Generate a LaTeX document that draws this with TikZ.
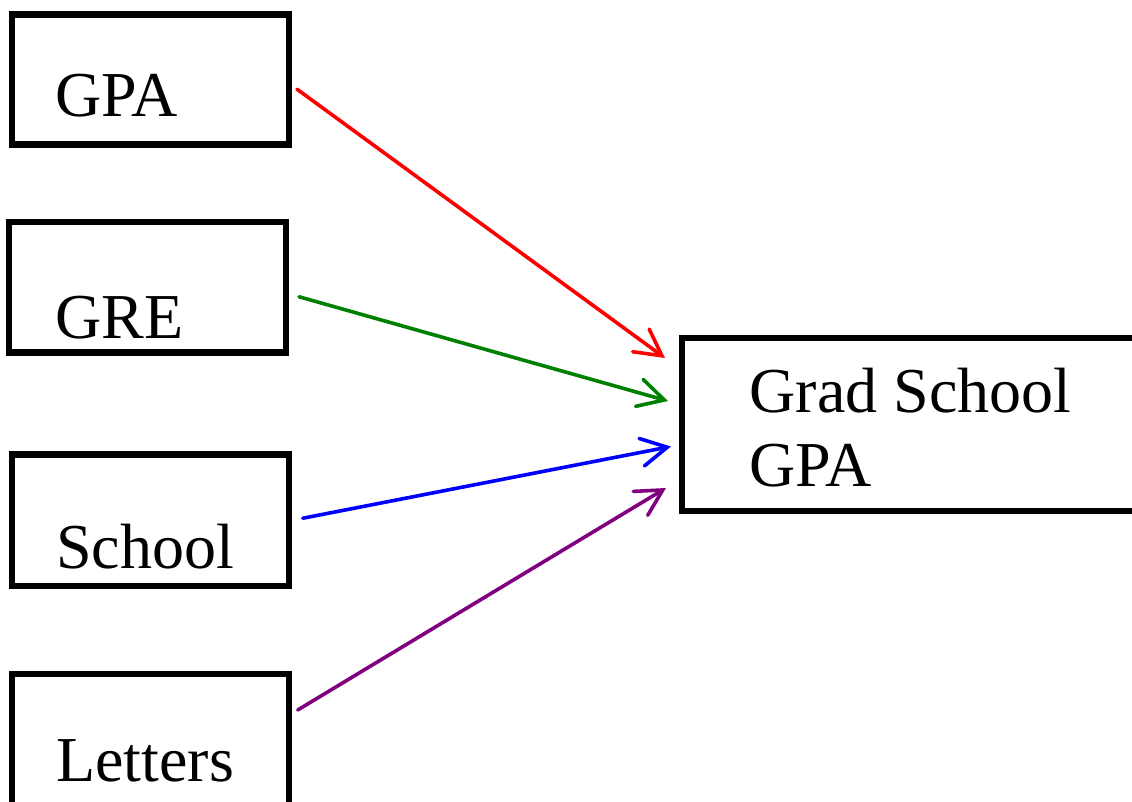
\documentclass[tikz,border=0pt]{standalone}
\usepackage{fontspec}
\setmainfont{Liberation Serif}
\usepackage{xcolor}
\usepackage{tikz}
\usetikzlibrary{calc, arrows.meta, positioning}
\definecolor{darkgreen}{RGB}{0,128,0}
\definecolor{darkpurple}{RGB}{128,0,128}
\tikzset{
    boxnode/.style = {draw, rectangle, line width=6.5pt, fill=none, inner sep=0em, outer sep=0pt,
      anchor=north west},
    textnode/.style = {draw=none, fill=none, rectangle, inner sep=0em, anchor=base west,
      font=\fontsize{64}{74.4}\selectfont},
    connect/.style = {line width=3.6pt, line cap=round,
      -{Straight Barb[length=26pt, width=28pt, line cap=round]}},
    every text node part/.style={align=left}
}
\begin{document}
\begin{tikzpicture}[x=1pt, y=-1pt]
    \useasboundingbox (0,0) rectangle (1132,802);
    \clip (0,0) rectangle (1132,802);

    \node [boxnode, name=GPAbox, minimum width=277pt, minimum height=130pt] at (12,14.5) {};
    \node [boxnode, name=GREbox, minimum width=277pt, minimum height=130.5pt] at (9,222) {};
    \node [boxnode, name=Schoolbox, minimum width=277pt, minimum height=131.5pt] at (12,454.5) {};
    \node [boxnode, name=Lettersbox, minimum width=277pt, minimum height=132pt] at (12,674) {};
    \node [boxnode, name=Gradbox, minimum width=470pt, minimum height=173pt] at (682,338) {};

    \node [textnode, name=GPA] at (55,117) {GPA};
    \node [textnode, name=GRE] at (55,338.3) {GRE};
    \node [textnode, name=School] at (56,568) {School};
    \node [textnode, name=Letters] at (56,781.7) {Letters};
    \node [textnode, name=Grad] at (749.5,486.7) {Grad School\\GPA};

    \draw [connect, red] ([xshift=8pt, yshift=-9.7pt]GPAbox.east) -- ([xshift=-17pt, yshift=66.5pt]Gradbox.west);
    \draw [connect, darkgreen] ([xshift=13pt, yshift=-9.5pt]GREbox.east) -- ([xshift=-14pt, yshift=23.5pt]Gradbox.west);
    \draw [connect, blue] ([xshift=13.7pt, yshift=2pt]Schoolbox.east) -- ([xshift=-11pt, yshift=-22pt]Gradbox.west);
    \draw [connect, darkpurple] ([xshift=8.7pt, yshift=30pt]Lettersbox.east) -- ([xshift=-16pt, yshift=-63.5pt]Gradbox.west);
\end{tikzpicture}
\end{document}
